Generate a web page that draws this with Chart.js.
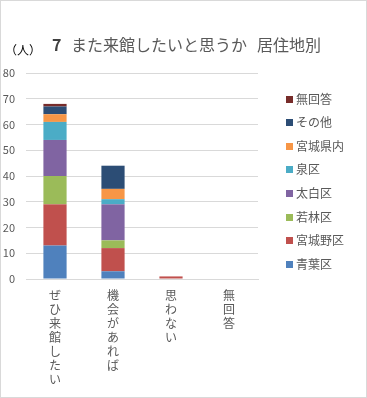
<!DOCTYPE html>
<html>
<head>
<meta charset="utf-8">
<script src="https://cdn.jsdelivr.net/npm/chart.js"></script>
<style>
  html, body { margin: 0; padding: 0; background: #fff; }
  #wrap { width: 367px; height: 398px; position: relative; }
</style>
</head>
<body>
<div id="wrap"><canvas id="myChart" width="367" height="398"></canvas></div>
<script>
const categories = ['ぜひ来館したい', '機会があれば', '思わない', '無回答'];
const yTicks = [0, 10, 20, 30, 40, 50, 60, 70, 80];

const aoba      = [13, 3, 0, 0];   // 青葉区
const miyagino  = [16, 9, 1, 0];   // 宮城野区
const wakabayashi = [11, 3, 0, 0]; // 若林区
const taihaku   = [14, 14, 0, 0];  // 太白区
const izumi     = [7, 2, 0, 0];    // 泉区
const kennai    = [3, 4, 0, 0];    // 宮城県内
const sonota    = [3, 9, 0, 0];    // その他
const mukaitou  = [1, 0, 0, 0];    // 無回答

const seriesNames = ['青葉区', '宮城野区', '若林区', '太白区', '泉区', '宮城県内', 'その他', '無回答'];
const seriesData = [aoba, miyagino, wakabayashi, taihaku, izumi, kennai, sonota, mukaitou];
const colors = ['#4F81BD', '#C0504D', '#9BBB59', '#8064A2', '#4BACC6', '#F79646', '#2C4D75', '#772C2A'];

const FONT = '"Noto Sans CJK JP", "Noto Sans", sans-serif';

// title, unit label, legend (top item = last series) and outer frame
const decor = {
  id: 'decor',
  afterDraw(chart) {
    const ctx = chart.ctx;
    ctx.save();
    ctx.textBaseline = 'middle';
    ctx.textAlign = 'left';
    ctx.font = 'bold 16px ' + FONT;
    ctx.fillStyle = '#404040';
    ctx.fillText('7', 52, 45);
    ctx.font = '16px ' + FONT;
    ctx.fillStyle = '#595959';
    ctx.fillText('また来館したいと思うか', 71, 45);
    ctx.fillText('居住地別', 257, 45);
    ctx.font = '12px ' + FONT;
    ctx.fillStyle = '#000';
    ctx.fillText('（人）', 5, 50);

    const sets = chart.data.datasets.slice().reverse();
    ctx.font = '12px ' + FONT;
    sets.forEach((ds, i) => {
      const y = 99 + i * 23.6;
      ctx.fillStyle = ds.backgroundColor;
      ctx.fillRect(286, Math.round(y - 3.5), 7, 7);
      ctx.fillStyle = '#595959';
      ctx.fillText(ds.label, 296, y);
    });

    ctx.strokeStyle = '#d9d9d9';
    ctx.lineWidth = 1;
    ctx.strokeRect(0.5, 0.5, chart.width - 1, chart.height - 1);
    ctx.restore();
  }
};

new Chart('myChart', {
  type: 'bar',
  data: {
    labels: categories,
    datasets: seriesNames.map((name, i) => ({
      label: name,
      data: seriesData[i],
      backgroundColor: colors[i],
      barPercentage: 0.4,
      categoryPercentage: 1.0
    }))
  },
  options: {
    responsive: false,
    animation: false,
    layout: { padding: { top: 73, left: 0, right: 109, bottom: 3 } },
    plugins: {
      title: { display: false },
      tooltip: { enabled: false },
      legend: { display: false }
    },
    scales: {
      x: {
        stacked: true,
        grid: { display: false, drawTicks: false },
        border: { color: '#d9d9d9' },
        ticks: {
          color: '#595959',
          padding: 9,
          maxRotation: 0,
          font: { family: FONT, size: 12, lineHeight: '14px' },
          callback(v) { return categories[v].split(''); }
        }
      },
      y: {
        stacked: true,
        min: 0,
        max: 80,
        afterBuildTicks(axis) { axis.ticks = yTicks.map(v => ({ value: v })); },
        afterFit(axis) { axis.width = 26; },
        grid: { color: '#d9d9d9', drawTicks: false },
        border: { display: false },
        ticks: {
          color: '#595959',
          padding: 11,
          font: { family: FONT, size: 11 }
        }
      }
    }
  },
  plugins: [decor]
});
</script>
</body>
</html>
